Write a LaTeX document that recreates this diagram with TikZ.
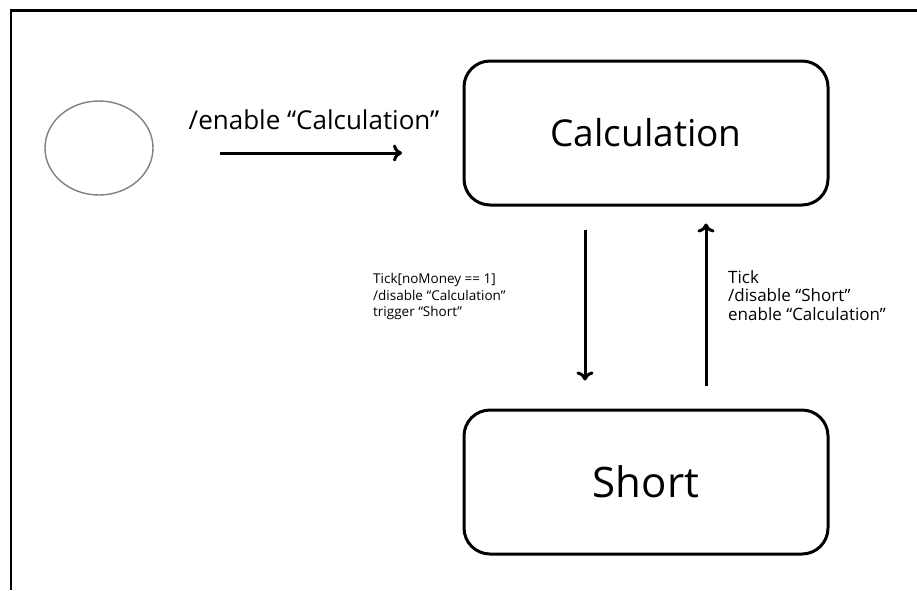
\documentclass[tikz,border=0pt]{standalone}
\usepackage{fontspec}
\setmainfont{Open Sans}
\usetikzlibrary{arrows.meta,shapes.geometric}

\begin{document}
\begin{tikzpicture}[x=1pt,y=-1pt,
  state/.style={draw, line width=3pt, rounded corners=26pt, minimum width=364pt, minimum height=144pt},
  trans/.style={line width=3pt, -{To[length=9pt,width=17pt]}},
  lbl/.style={align=left, anchor=north west, inner sep=0pt}]
\useasboundingbox (0,0) rectangle (917,590);

% Frame (top and left edge only)
\draw[line width=2.2pt] (11,590) -- (11,10.5) -- (917,10.5);

% States
\node[draw=gray, line width=1.4pt, ellipse, minimum width=108pt, minimum height=94pt] (init) at (99,148) {};
\node[state, font=\fontsize{37}{42}\selectfont] (calc) at (646,133) {Calculation};
\node[state, font=\fontsize{42}{48}\selectfont] (short) at (646,482) {Short};

% Initial transition
\coordinate (i1) at (220,153);
\coordinate (i2) at (402,153);
\draw[trans] (i1) -- (i2);
\node[font=\fontsize{26}{30}\selectfont] (lenable) at (314,120) {/enable “Calculation”};

% Calculation -> Short
\coordinate (d1) at ([xshift=-61pt,yshift=-23pt]calc.south);
\coordinate (d2) at ([xshift=-61pt,yshift=28pt]short.north);
\draw[trans] (d1) -- (d2);
\node[lbl, font=\fontsize{13.5}{16.7}\selectfont] (ldown) at (373,273) {Tick[noMoney == 1]\\/disable “Calculation”\\trigger “Short”};

% Short -> Calculation
\coordinate (u1) at ([xshift=60pt,yshift=23pt]short.north);
\coordinate (u2) at ([xshift=60pt,yshift=-17pt]calc.south);
\draw[trans] (u1) -- (u2);
\node[lbl, font=\fontsize{17}{18.7}\selectfont] (lup) at (728,270) {Tick\\/disable “Short”\\enable “Calculation”};
\end{tikzpicture}
\end{document}
